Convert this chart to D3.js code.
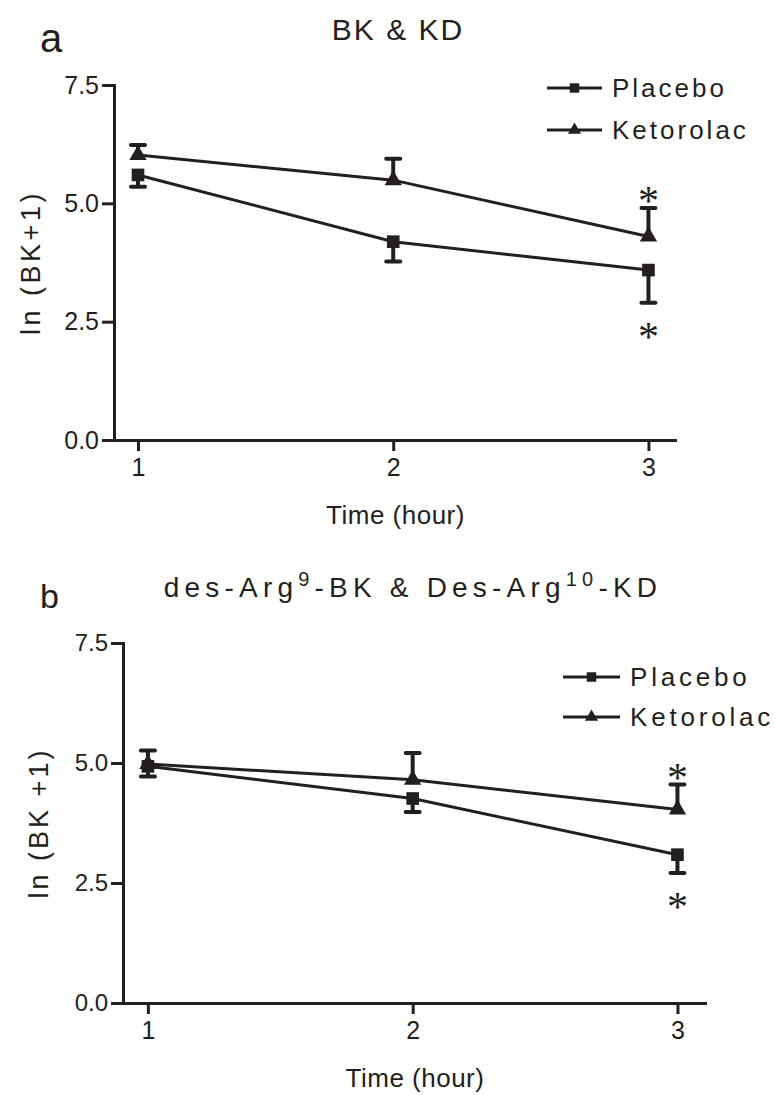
<!DOCTYPE html>
<html>
	<head>
		<title>BK &amp; KD - Placebo vs Ketorolac</title>
		<script src="https://d3js.org/d3.v7.min.js"></script>

		<style>
			body { margin: 0; background: #fff; }
			text {
			  font-family: "Liberation Sans", Arial, sans-serif;
			  fill: #231f20;
			}
			.axis path, .axis line {
			  stroke: #231f20;
			  stroke-width: 3px;
			}
			.series {
			  fill: none;
			  stroke: #231f20;
			  stroke-width: 3px;
			}
			.err {
			  stroke: #231f20;
			  stroke-width: 4px;
			}
		</style>
	</head>

	<body>

		<svg width="775" height="1095">
		</svg>

        <script type="text/javascript">
			// data
			var hours = [1, 2, 3];
			var yTicks = [0, 2.5, 5, 7.5];
			var seriesNames = ["Placebo", "Ketorolac"];

			// panel a: BK & KD
			var placeboA = [5.60, 4.19, 3.59];
			var placeboErrA = [0.25, 0.42, 0.69];
			var ketorolacA = [6.02, 5.49, 4.30];
			var ketorolacErrA = [0.21, 0.45, 0.60];

			// panel b: des-Arg9-BK & Des-Arg10-KD
			var placeboB = [4.93, 4.26, 3.09];
			var placeboErrB = [0.21, 0.28, 0.38];
			var ketorolacB = [4.98, 4.65, 4.03];
			var ketorolacErrB = [0.28, 0.56, 0.52];

			// significant at hour 3 in both groups
			var starHours = [3];

			var svg = d3.select("svg");
			var ink = "#231f20";

			function drawPanel(p) {
			  var g = svg.append("g");

			  var x = d3.scaleLinear().domain([0.906, 3.104]).range(p.xRange);
			  var y = d3.scaleLinear().domain([0, 7.5]).range(p.yRange);

			  g.append("g")
			    .attr("class", "axis")
			    .attr("transform", "translate(" + p.xRange[0] + ",0)")
			    .call(d3.axisLeft(y).tickValues(yTicks).tickFormat(d3.format(".1f"))
			      .tickSize(12).tickSizeOuter(0).tickPadding(3))
			    .selectAll("text").style("font-size", p.tickFont + "px");

			  g.append("g")
			    .attr("class", "axis")
			    .attr("transform", "translate(0," + p.yRange[0] + ")")
			    .call(d3.axisBottom(x).tickValues(hours).tickFormat(d3.format("d"))
			      .tickSize(11).tickSizeOuter(0).tickPadding(7))
			    .selectAll("text").style("font-size", "25px");

			  g.selectAll(".axis path").attr("stroke-linecap", "square");

			  var series = [
			    { name: seriesNames[0], values: p.placebo, err: p.placeboErr, dir: 1, shape: d3.symbolSquare },
			    { name: seriesNames[1], values: p.ketorolac, err: p.ketorolacErr, dir: -1, shape: d3.symbolTriangle }
			  ];

			  var line = d3.line()
			    .x(function(d, i) { return x(hours[i]); })
			    .y(function(d) { return y(d); });

			  series.forEach(function(s) {
			    g.append("path")
			      .attr("class", "series")
			      .attr("d", line(s.values));

			    // one-sided error bars: placebo down, ketorolac up
			    var bars = g.selectAll(null)
			      .data(s.values)
			      .enter()
			      .append("g");
			    bars.append("line")
			      .attr("class", "err")
			      .attr("x1", function(d, i) { return x(hours[i]); })
			      .attr("x2", function(d, i) { return x(hours[i]); })
			      .attr("y1", function(d) { return y(d); })
			      .attr("y2", function(d, i) { return y(d - s.dir * s.err[i]); });
			    bars.append("line")
			      .attr("class", "err")
			      .attr("stroke-linecap", "round")
			      .attr("x1", function(d, i) { return x(hours[i]) - 7; })
			      .attr("x2", function(d, i) { return x(hours[i]) + 7; })
			      .attr("y1", function(d, i) { return y(d - s.dir * s.err[i]); })
			      .attr("y2", function(d, i) { return y(d - s.dir * s.err[i]); });

			    g.selectAll(null)
			      .data(s.values)
			      .enter()
			      .append("path")
			      .attr("d", d3.symbol().type(s.shape).size(s.shape === d3.symbolSquare ? 160 : 130))
			      .attr("transform", function(d, i) { return "translate(" + x(hours[i]) + "," + y(d) + ")"; })
			      .attr("fill", ink);

			    // asterisks
			    starHours.forEach(function(h) {
			      var i = hours.indexOf(h);
			      var capY = y(s.values[i] - s.dir * s.err[i]);
			      g.append("text")
			        .attr("x", x(h))
			        .attr("y", capY + (s.dir > 0 ? 48 : 7))
			        .attr("text-anchor", "middle")
			        .style("font-family", "'Liberation Serif', serif")
			        .style("font-size", "42px")
			        .text("*");
			    });
			  });

			  // legend
			  var leg = g.append("g");
			  series.forEach(function(s, k) {
			    var ly = p.legendY + k * p.legendGap;
			    leg.append("line")
			      .attr("x1", p.legendX).attr("x2", p.legendX + p.legendLen)
			      .attr("y1", ly).attr("y2", ly)
			      .attr("stroke", ink).attr("stroke-width", 3);
			    leg.append("path")
			      .attr("d", d3.symbol().type(s.shape).size(s.shape === d3.symbolSquare ? 90 : 75))
			      .attr("transform", "translate(" + (p.legendX + p.legendLen / 2) + "," + ly + ")")
			      .attr("fill", ink);
			    leg.append("text")
			      .attr("x", p.legendX + p.legendLen + 10)
			      .attr("y", ly)
			      .attr("dy", "0.36em")
			      .style("font-size", "26px")
			      .style("letter-spacing", p.legendSpacing + "px")
			      .text(s.name);
			  });

			  // titles
			  g.append("text")
			    .attr("x", p.letterX).attr("y", p.letterY)
			    .style("font-size", p.letterFont + "px")
			    .text(p.letter);

			  var title = g.append("text")
			    .attr("x", p.titleX).attr("y", p.titleY)
			    .attr("text-anchor", "middle")
			    .style("font-size", p.titleFont + "px")
			    .style("letter-spacing", p.titleSpacing + "px");
			  p.title.forEach(function(part) {
			    var t = title.append("tspan").text(part[0]);
			    if (part[1]) t.attr("baseline-shift", "super").style("font-size", "20px");
			  });

			  g.append("text")
			    .attr("x", (p.xRange[0] + p.xRange[1]) / 2 + 1)
			    .attr("y", p.yRange[0] + 84)
			    .attr("text-anchor", "middle")
			    .style("font-size", "26px")
			    .style("letter-spacing", "0.5px")
			    .text("Time (hour)");

			  g.append("text")
			    .attr("transform", "translate(" + p.yLabelX + "," + (p.yRange[0] + p.yRange[1]) / 2 + ") rotate(-90)")
			    .attr("text-anchor", "middle")
			    .style("font-size", "27px")
			    .style("letter-spacing", p.yLabelSpacing + "px")
			    .text(p.yLabel);
			}

			drawPanel({
			  xRange: [114, 675], yRange: [440, 85],
			  placebo: placeboA, placeboErr: placeboErrA,
			  ketorolac: ketorolacA, ketorolacErr: ketorolacErrA,
			  tickFont: 25,
			  legendX: 547, legendY: 88, legendGap: 42, legendLen: 55, legendSpacing: 3,
			  letter: "a", letterX: 40, letterY: 52, letterFont: 40,
			  title: [["BK & KD"]], titleX: 398, titleY: 40, titleFont: 30, titleSpacing: 2,
			  yLabel: "ln (BK+1)", yLabelX: 40, yLabelSpacing: 3.5
			});

			drawPanel({
			  xRange: [123, 705], yRange: [1003, 643],
			  placebo: placeboB, placeboErr: placeboErrB,
			  ketorolac: ketorolacB, ketorolacErr: ketorolacErrB,
			  tickFont: 24,
			  legendX: 563, legendY: 677, legendGap: 40, legendLen: 57, legendSpacing: 3.8,
			  letter: "b", letterX: 40, letterY: 608, letterFont: 34,
			  title: [["des-Arg"], ["9", true], ["-BK & Des-Arg"], ["10", true], ["-KD"]],
			  titleX: 413, titleY: 597, titleFont: 28, titleSpacing: 5.2,
			  yLabel: "ln (BK +1)", yLabelX: 48, yLabelSpacing: 3
			});

        </script>

	</body>
</html>
